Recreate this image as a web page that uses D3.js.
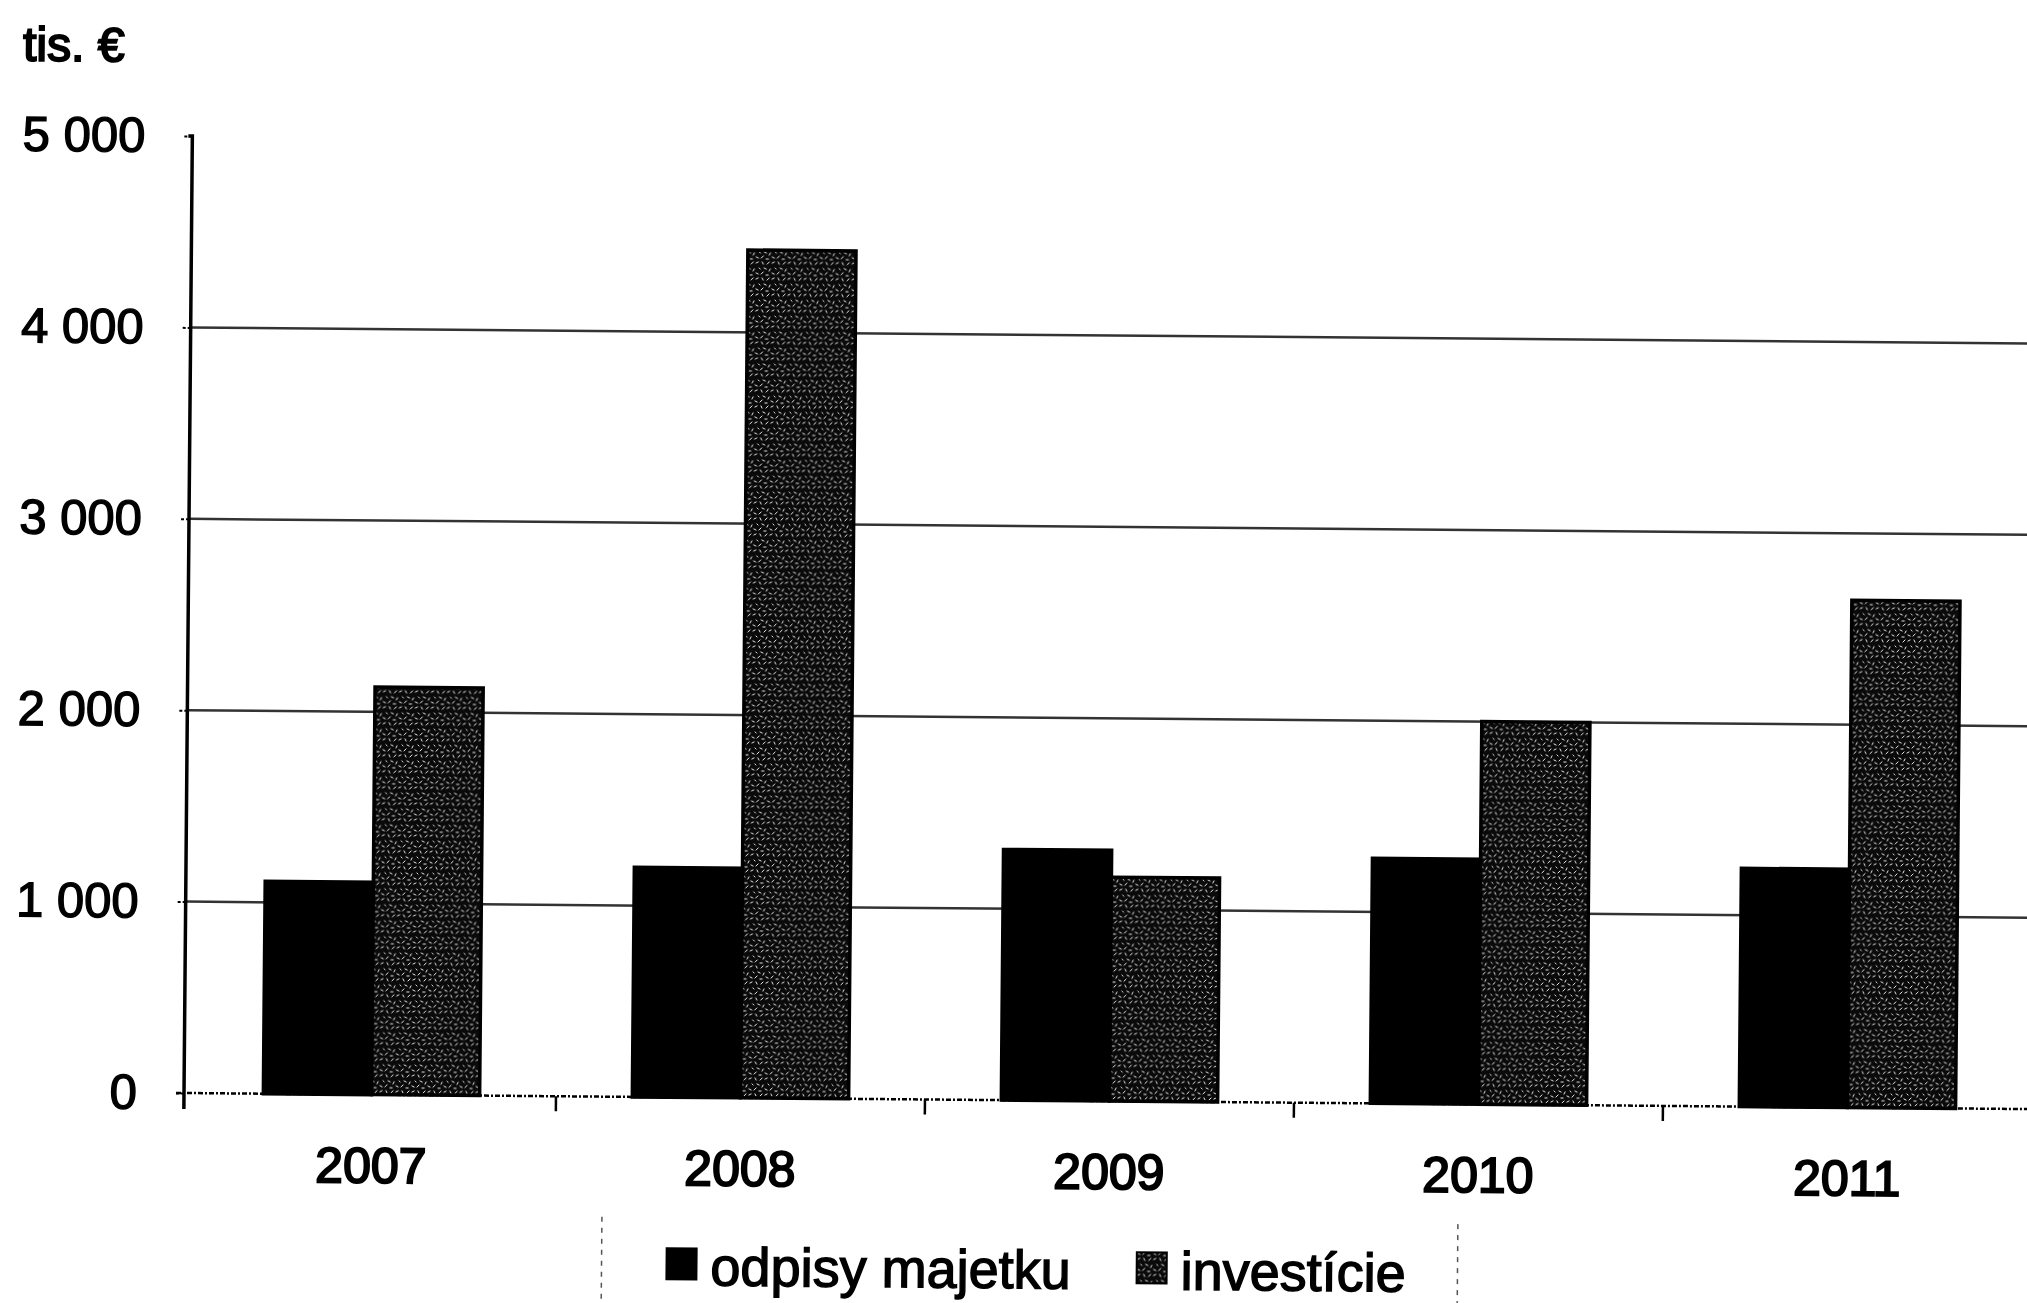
<!DOCTYPE html>
<html>
<head>
<meta charset="utf-8">
<script src="https://cdn.jsdelivr.net/npm/d3@7"></script>
<style>
  html, body { margin: 0; padding: 0; background: #fff; }
  svg { display: block; font-family: 'Liberation Sans', Arial, sans-serif; }
</style>
</head>
<body>
<svg id="chart" width="2027" height="1303"></svg>
<script>
const years = ['2007', '2008', '2009', '2010', '2011']
const seriesNames = ['odpisy majetku', 'investície']
const odpisy = [1110, 1200, 1310, 1280, 1245]
const investicie = [2130, 4430, 1170, 2000, 2650]
const yTicks = [0, 1000, 2000, 3000, 4000, 5000]
const unitLabel = 'tis. €'

const width = 2027
const height = 1303
const origin = { x: 184, y: 1093 }

const data = years.map((year, i) => ({
  year,
  values: [
    { key: seriesNames[0], value: odpisy[i] },
    { key: seriesNames[1], value: investicie[i] },
  ],
}))

const svg = d3.select('#chart')

// texture for the "investície" bars (scanned grain)
const pattern = svg
  .append('defs')
  .append('pattern')
  .attr('id', 'grain')
  .attr('patternUnits', 'userSpaceOnUse')
  .attr('width', 16)
  .attr('height', 16)

pattern.append('rect').attr('width', 16).attr('height', 16).attr('fill', '#0a0a0a')

pattern
  .selectAll('path')
  .data([
    'M1 2 l2 -1', 'M7 1 l1 2', 'M12 3 l2 -2', 'M4 7 l1 1', 'M9 7 l2 1',
    'M14 10 l1 -2', 'M1 12 l2 1', 'M6 13 l2 -2', 'M11 14 l2 0',
  ])
  .join('path')
  .attr('d', d => d)
  .attr('stroke', '#eee')
  .attr('stroke-width', 1)
  .attr('stroke-linecap', 'square')

// the scan is slightly tilted
const g = svg.append('g').attr('transform', `rotate(0.5, ${origin.x}, ${origin.y})`)

const x = d3
  .scaleBand()
  .domain(years)
  .range([origin.x + 3, origin.x + 3 + 5 * 369])
  .padding(0)

const x1 = d3
  .scaleBand()
  .domain(seriesNames)
  .range([0, x.bandwidth()])
  .paddingInner(0)
  .paddingOuter(0.706)

const y = d3.scaleLinear().domain([0, 5000]).range([origin.y, 136])

const color = d3.scaleOrdinal().domain(seriesNames).range(['#000', 'url(#grain)'])

const locale = d3.formatLocale({ decimal: ',', thousands: ' ', grouping: [3], currency: ['', ' €'] })
const fmt = locale.format(',')

// gridlines
g.append('g')
  .selectAll('line')
  .data(yTicks.filter(d => d > 0 && d < 5000))
  .join('line')
  .attr('x1', origin.x)
  .attr('x2', width + 40)
  .attr('y1', d => y(d))
  .attr('y2', d => y(d))
  .attr('stroke', '#333')
  .attr('stroke-width', 2.5)

// y axis
const yAxis = g
  .append('g')
  .attr('transform', `translate(${origin.x}, 0)`)
  .call(d3.axisLeft(y).tickValues(yTicks).tickFormat(fmt).tickSize(10).tickPadding(37))

yAxis.select('.domain').attr('stroke', '#000').attr('stroke-width', 3.5).attr('d', `M-4,${y(5000)}H0V${origin.y + 16}`)
yAxis.selectAll('.tick line').attr('stroke', '#000').attr('stroke-width', 2).attr('stroke-dasharray', '3 2')
yAxis
  .selectAll('.tick text')
  .attr('fill', '#000')
  .attr('font-size', 49)
  .attr('font-family', "'Liberation Sans', Arial, sans-serif")
  .attr('stroke', '#000')
  .attr('stroke-width', 1.4)

// x axis
const xAxis = g
  .append('g')
  .attr('transform', `translate(0, ${origin.y})`)
  .call(d3.axisBottom(x).tickSize(0).tickPadding(88))

xAxis.select('.domain').attr('stroke', '#000').attr('stroke-width', 2.5).attr('stroke-dasharray', '5 2 2 2').attr('d', `M${origin.x - 8},0H${width + 40}`)
xAxis
  .selectAll('.tick text')
  .attr('fill', '#000')
  .attr('font-size', 50)
  .attr('font-family', "'Liberation Sans', Arial, sans-serif")
  .attr('dy', 0)
  .attr('dominant-baseline', 'auto')
  .attr('stroke', '#000')
  .attr('stroke-width', 2)

g.append('g')
  .selectAll('line')
  .data(years.slice(1))
  .join('line')
  .attr('x1', d => x(d))
  .attr('x2', d => x(d))
  .attr('y1', origin.y)
  .attr('y2', origin.y + 15)
  .attr('stroke', '#000')
  .attr('stroke-width', 2.5)

// bars
const groups = g
  .append('g')
  .selectAll('g')
  .data(data)
  .join('g')
  .attr('transform', d => `translate(${x(d.year)}, 0)`)

groups
  .selectAll('rect')
  .data(d => d.values)
  .join('rect')
  .attr('x', d => x1(d.key))
  .attr('y', d => y(d.value))
  .attr('width', x1.bandwidth())
  .attr('height', d => y(0) - y(d.value))
  .attr('fill', d => color(d.key))
  .attr('stroke', '#000')
  .attr('stroke-width', 3.5)

// unit label
g.append('text')
  .attr('x', 14)
  .attr('y', 62)
  .attr('font-size', 48)
  .attr('stroke', '#000')
  .attr('stroke-width', 2)
  .text(unitLabel)

// legend
const legend = g.append('g').attr('transform', 'translate(0, 1281)')

legend
  .selectAll('line')
  .data([603, 1459])
  .join('line')
  .attr('x1', d => d)
  .attr('x2', d => d)
  .attr('y1', -68)
  .attr('y2', 40)
  .attr('stroke', '#555')
  .attr('stroke-width', 1.5)
  .attr('stroke-dasharray', '5 6')

let cursor = 668
seriesNames.forEach(name => {
  const item = legend.append('g').attr('transform', `translate(${cursor}, 0)`)
  item
    .append('rect')
    .attr('x', 0)
    .attr('y', -37)
    .attr('width', 30)
    .attr('height', 31)
    .attr('fill', color(name))
    .attr('stroke', '#000')
    .attr('stroke-width', 2)
  const label = item
    .append('text')
    .attr('x', 44)
    .attr('y', 0)
    .attr('font-size', 54)
    .attr('stroke', '#000')
    .attr('stroke-width', 1.4)
    .text(name)
  cursor += 44 + label.node().getComputedTextLength() + 66
})
</script>
</body>
</html>
